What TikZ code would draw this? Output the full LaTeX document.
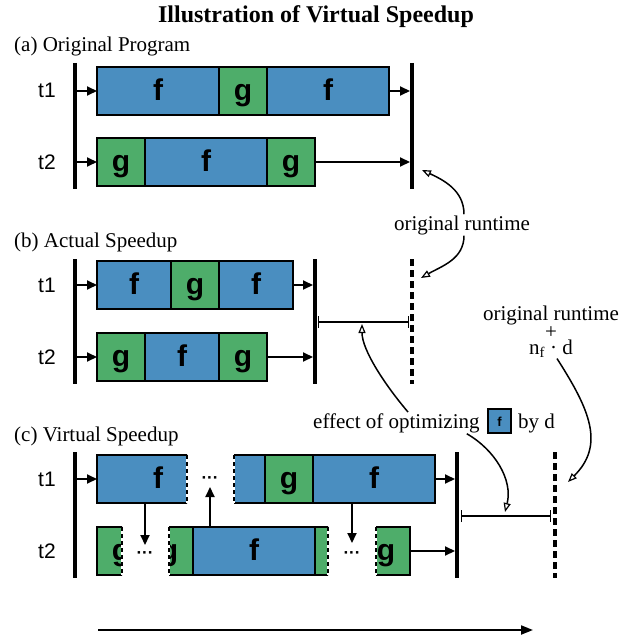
\documentclass[tikz,border=0pt]{standalone}
\usepackage{fontspec}
\setmainfont{Liberation Serif}
\newfontfamily\helv{Liberation Sans}
\usetikzlibrary{arrows.meta,calc}
\definecolor{fblue}{HTML}{4A8EC0}
\definecolor{ggreen}{HTML}{4EAD6A}
\tikzset{
  box/.style={rectangle, draw=black, line width=2pt, minimum height=48pt, inner sep=0pt, outer sep=0pt, anchor=west, text height=18.6pt, text depth=0pt, font=\helv\bfseries\fontsize{30}{30}\selectfont},
  fb/.style={box, fill=fblue, minimum width=122pt},
  fs/.style={box, fill=fblue, minimum width=74pt},
  gb/.style={box, fill=ggreen, minimum width=48pt},
  conn/.style={line width=2pt, -{Triangle[length=10pt,width=9pt]}},
  vbar/.style={line width=4pt},
  dbar/.style={line width=4pt, dash pattern=on 7pt off 4pt},
  cut/.style={line width=2pt, dash pattern=on 4pt off 3pt},
  cutbg/.style={line width=2pt, white},
  note/.style={line width=1.5pt, -{Triangle[length=9pt,width=7pt,fill=white,line width=1.2pt]}},
  spanline/.style={line width=1.3pt, {Bar[width=12pt]}-{Bar[width=12pt]}},
  lbl/.style={font=\fontsize{21}{25}\selectfont, inner sep=1pt},
  tl/.style={font=\helv\fontsize{21}{21}\selectfont, inner sep=0pt},
  dots/.style={font=\helv\bfseries\fontsize{17}{17}\selectfont, inner sep=0pt, anchor=base},
}
\begin{document}
\begin{tikzpicture}[x=1pt,y=1pt]
\useasboundingbox (0,0) rectangle (631,-639);

% title and panel labels
\node[font=\bfseries\fontsize{24}{28}\selectfont, anchor=base, inner sep=0pt] (title) at (316,-23) {Illustration of Virtual Speedup};
\node[lbl, anchor=base west] (pa) at (13,-52) {(a) Original Program};
\node[lbl, anchor=base west] (pb) at (13,-247) {(b) Actual Speedup};
\node[lbl, anchor=base west] (pc) at (13,-441) {(c) Virtual Speedup};

% ---------------- (a) ----------------
\node[tl] (at1) at (47,-90) {t1};
\node[tl] (at2) at (47,-162) {t2};
\coordinate (aLt) at (75,-63); \coordinate (aLb) at (75,-189);
\coordinate (aRt) at (412,-63); \coordinate (aRb) at (412,-189);
\draw[vbar] (aLt) -- (aLb);
\draw[vbar] (aRt) -- (aRb);
\node[fb] (a1f1) at (97,-91) {f};
\node[gb] (a1g) at (a1f1.east) {g};
\node[fb] (a1f2) at (a1g.east) {f};
\node[gb] (a2g1) at (97,-162) {g};
\node[fb] (a2f) at (a2g1.east) {f};
\node[gb] (a2g2) at (a2f.east) {g};
\coordinate (aL1) at (75,-91); \coordinate (aL2) at (75,-162);
\coordinate (aR1) at (410,-91); \coordinate (aR2) at (410,-162);
\draw[conn] (aL1) -- (a1f1.west);
\draw[conn] (aL2) -- (a2g1.west);
\draw[conn] (a1f2.east) -- (aR1);
\draw[conn] (a2g2.east) -- (aR2);

% ---------------- (b) ----------------
\node[tl] (bt1) at (47,-285) {t1};
\node[tl] (bt2) at (47,-357) {t2};
\coordinate (bLt) at (75,-259); \coordinate (bLb) at (75,-384);
\coordinate (bRt) at (315,-259); \coordinate (bRb) at (315,-384);
\coordinate (bDt) at (412,-259); \coordinate (bDb) at (412,-384);
\draw[vbar] (bLt) -- (bLb);
\draw[vbar] (bRt) -- (bRb);
\draw[dbar] (bDt) -- (bDb);
\node[fs] (b1f1) at (97,-285) {f};
\node[gb] (b1g) at (b1f1.east) {g};
\node[fs] (b1f2) at (b1g.east) {f};
\node[gb] (b2g1) at (97,-357) {g};
\node[fs] (b2f) at (b2g1.east) {f};
\node[gb] (b2g2) at (b2f.east) {g};
\coordinate (bL1) at (75,-285); \coordinate (bL2) at (75,-357);
\coordinate (bR1) at (313,-285); \coordinate (bR2) at (313,-357);
\draw[conn] (bL1) -- (b1f1.west);
\draw[conn] (bL2) -- (b2g1.west);
\draw[conn] (b1f2.east) -- (bR1);
\draw[conn] (b2g2.east) -- (bR2);
\coordinate (bS) at (318,-322); \coordinate (bE) at (409,-322);
\draw[spanline] (bS) -- (bE);

% ---------------- (c) ----------------
\node[tl] (ct1) at (47,-479) {t1};
\node[tl] (ct2) at (47,-551) {t2};
\coordinate (cLt) at (75,-452); \coordinate (cLb) at (75,-578);
\coordinate (cRt) at (457,-452); \coordinate (cRb) at (457,-578);
\coordinate (cDt) at (555,-452); \coordinate (cDb) at (555,-578);
\draw[vbar] (cLt) -- (cLb);
\draw[vbar] (cRt) -- (cRb);
\draw[dbar] (cDt) -- (cDb);

% t1 first piece
\begin{scope}
  \clip (90,-450) rectangle (187,-508);
  \node[fb] (c1f1) at (97,-479) {f};
\end{scope}
\draw[cutbg] (187,-455) -- (187,-503);
\draw[cut] (187,-455) -- (187,-503);
\node[dots] (c1d) at (210,-483) {···};
% t1 second piece
\begin{scope}
  \clip (234,-450) rectangle (500,-508);
  \node[fb] (c1f0) at (143,-479) {f};
  \node[gb] (c1g) at (c1f0.east) {g};
  \node[fb] (c1f2) at (c1g.east) {f};
\end{scope}
\draw[cutbg] (234,-455) -- (234,-503);
\draw[cut] (234,-455) -- (234,-503);

% t2 pieces
\begin{scope}
  \clip (90,-522) rectangle (122,-580);
  \node[gb] (c2g1) at (97,-551) {g};
\end{scope}
\draw[cutbg] (122,-527) -- (122,-575);
\draw[cut] (122,-527) -- (122,-575);
\node[dots] (c2d1) at (145,-558) {···};
\begin{scope}
  \clip (169,-522) rectangle (328,-580);
  \node[gb] (c2g2) at (145,-551) {g};
  \node[fb] (c2f) at (c2g2.east) {f};
  \node[gb] (c2g3) at (c2f.east) {g};
\end{scope}
\draw[cutbg] (169,-527) -- (169,-575);
\draw[cut] (169,-527) -- (169,-575);
\draw[cutbg] (328,-527) -- (328,-575);
\draw[cut] (328,-527) -- (328,-575);
\node[dots] (c2d2) at (352,-558) {···};
\begin{scope}
  \clip (376,-522) rectangle (420,-580);
  \node[gb] (c2g4) at (362,-551) {g};
\end{scope}
\draw[cutbg] (376,-527) -- (376,-575);
\draw[cut] (376,-527) -- (376,-575);

\coordinate (cL1) at (75,-479);
\coordinate (cR1) at (455,-479); \coordinate (cR2) at (455,-551);
\draw[conn] (cL1) -- (c1f1.west);
\draw[conn] (c1f2.east) -- (cR1);
\draw[conn] (c2g4.east) -- (cR2);

% vertical arrows
\coordinate (v1) at (145,-545);
\coordinate (v2) at (210,-487);
\coordinate (v3) at (352,-543);
\draw[conn] ([xshift=48pt]c1f1.south west) -- (v1);
\draw[conn] ([xshift=17pt]c2f.north west) -- (v2);
\draw[conn] ([xshift=39pt]c1f2.south west) -- (v3);

\coordinate (cS) at (461,-516); \coordinate (cE) at (551,-516);
\draw[spanline] (cS) -- (cE);

% time arrow
\coordinate (tS) at (98,-630); \coordinate (tE) at (533,-630);
\draw[line width=2pt, -{Triangle[length=12pt,width=9pt]}] (tS) -- (tE);

% ---------------- annotations ----------------
\node[lbl, anchor=base] (ort) at (462,-230) {original runtime};
\coordinate (tipA) at (422,-170);
\coordinate (tipB) at (421,-278);
\draw[note] ([xshift=2pt]ort.north) to[out=90,in=-25] (tipA);
\draw[note] ([xshift=2pt]ort.south) to[out=-90,in=30] (tipB);

\node[font=\fontsize{21}{16}\selectfont, inner sep=1pt, align=center, anchor=north] (ort2) at (551,-305) {original runtime\\+\\n\textsubscript{f} · d};
\coordinate (tipC) at (568,-482);
\draw[note] ([xshift=6pt]ort2.south) .. controls (590,-410) and (605,-445) .. (tipC);

\node[lbl, anchor=base west] (eff) at (312,-428) {effect of optimizing};
\node[rectangle, draw=black, line width=1.2pt, fill=fblue, minimum width=23pt, minimum height=24pt, inner sep=0pt, text height=10pt, text depth=0pt, font=\helv\bfseries\fontsize{13}{13}\selectfont] (smallf) at (499.5,-421) {f};
\node[lbl, anchor=base west] (byd) at (517,-428) {by d};
\coordinate (tipD) at (362,-324);
\coordinate (tipE) at (505,-512);
\draw[note] ([xshift=96pt]eff.north west) .. controls (385,-385) and (362,-350) .. (tipD);
\draw[note] ([xshift=-14pt]eff.south east) .. controls (495,-450) and (513,-480) .. (tipE);
\end{tikzpicture}
\end{document}
